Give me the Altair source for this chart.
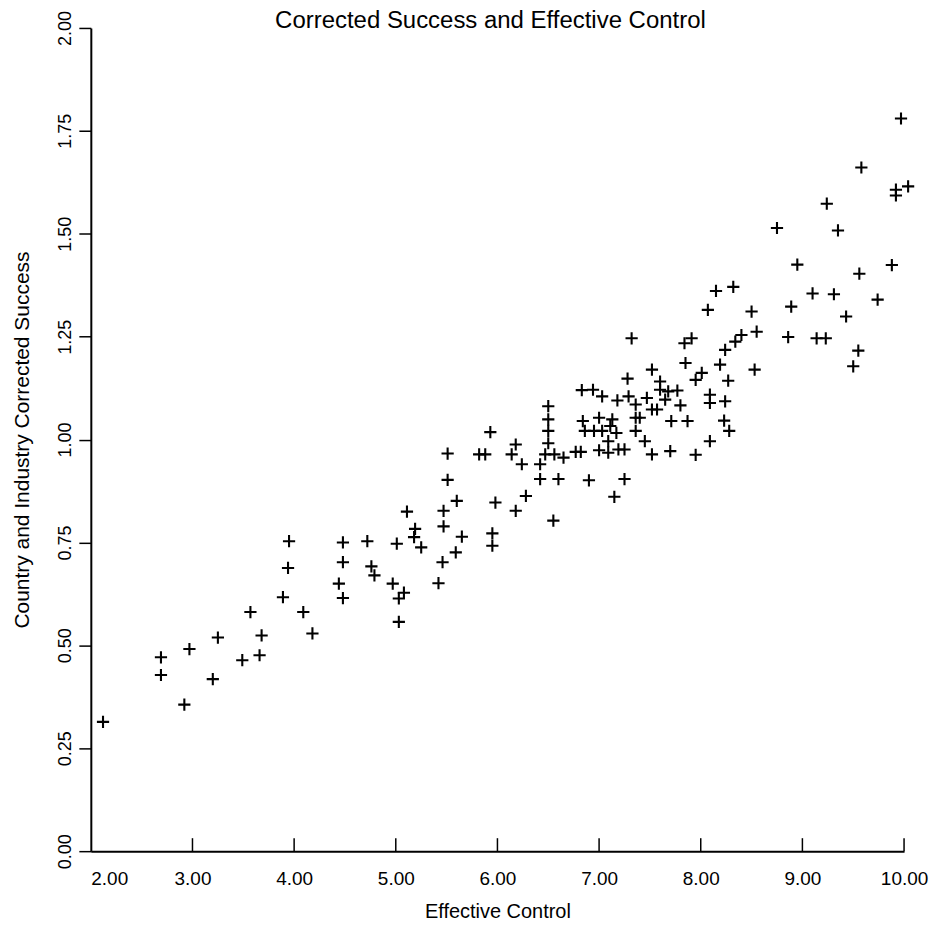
import altair as alt
import pandas as pd

# Values
effective_control = [
    2.12, 2.69, 2.69, 2.92, 2.97, 3.20, 3.25, 3.49, 3.66, 3.68,
    3.57, 3.89, 3.94, 4.09, 4.18, 4.44, 4.48, 4.48, 4.76, 4.79,
    4.97, 5.03, 5.03, 5.08, 3.95, 4.48, 4.72, 5.01, 5.11, 5.19,
    5.18, 5.25, 5.47, 5.47, 5.51, 5.51, 5.60, 5.65, 5.59, 5.46,
    5.42, 5.95, 5.95, 5.98, 5.93, 5.82, 5.88, 6.18, 6.14, 6.24,
    6.18, 6.28, 6.55, 6.42, 6.60, 6.42, 6.47, 6.56, 6.65, 6.50,
    6.50, 6.50, 6.50, 6.77, 6.82, 6.84, 6.86, 6.95, 7.00, 7.03,
    7.13, 7.11, 7.17, 7.09, 7.00, 7.09, 7.19, 7.25, 7.36, 7.40,
    7.36, 7.45, 7.52, 7.52, 7.71, 7.70, 6.90, 7.25, 7.15, 8.07,
    8.50, 8.89, 9.43, 9.74, 7.32, 7.84, 7.91, 8.40, 8.34, 8.55,
    8.24, 8.86, 9.14, 9.23, 9.55, 9.50, 8.53, 8.19, 7.85, 7.52,
    7.28, 7.60, 8.01, 7.95, 8.27, 7.60, 7.68, 7.77, 7.03, 7.18,
    7.29, 7.47, 7.65, 7.36, 7.80, 7.57, 8.09, 8.09, 8.24, 7.87,
    8.23, 8.28, 8.09, 7.95, 6.83, 6.94, 9.97, 9.58, 9.92, 9.92,
    10.04, 9.24, 9.35, 8.75, 8.95, 9.56, 9.88, 9.10, 9.31, 8.15,
    8.32,
]
corrected_success = [
    0.314, 0.471, 0.428, 0.356, 0.491, 0.418, 0.519, 0.464, 0.476, 0.524,
    0.581, 0.617, 0.688, 0.581, 0.529, 0.650, 0.615, 0.702, 0.692, 0.670,
    0.650, 0.614, 0.557, 0.628, 0.753, 0.750, 0.753, 0.747, 0.825, 0.783,
    0.763, 0.738, 0.789, 0.827, 0.902, 0.966, 0.851, 0.764, 0.726, 0.702,
    0.651, 0.772, 0.742, 0.847, 1.018, 0.964, 0.964, 0.988, 0.964, 0.940,
    0.827, 0.863, 0.803, 0.904, 0.904, 0.940, 0.964, 0.964, 0.956, 0.991,
    1.021, 1.049, 1.081, 0.970, 0.970, 1.045, 1.021, 1.021, 1.053, 1.021,
    1.049, 1.033, 1.016, 0.996, 0.974, 0.968, 0.976, 0.976, 1.053, 1.053,
    1.021, 0.996, 1.073, 0.964, 1.045, 0.972, 0.901, 0.904, 0.861, 1.315,
    1.311, 1.323, 1.299, 1.340, 1.246, 1.234, 1.246, 1.254, 1.238, 1.262,
    1.218, 1.249, 1.246, 1.246, 1.216, 1.178, 1.170, 1.182, 1.186, 1.170,
    1.148, 1.141, 1.162, 1.145, 1.143, 1.121, 1.117, 1.119, 1.105, 1.095,
    1.105, 1.101, 1.097, 1.085, 1.083, 1.073, 1.109, 1.089, 1.093, 1.045,
    1.046, 1.021, 0.996, 0.963, 1.120, 1.121, 1.780, 1.661, 1.607, 1.593,
    1.615, 1.573, 1.508, 1.514, 1.425, 1.403, 1.424, 1.355, 1.353, 1.361,
    1.371,
]

x_tick_values = [2, 3, 4, 5, 6, 7, 8, 9, 10]
y_tick_values = [0, 0.25, 0.5, 0.75, 1.0, 1.25, 1.5, 1.75, 2.0]
x_inner_ticks = [3, 4, 5, 6, 7, 8, 9, 10]

df = pd.DataFrame({"ec": effective_control, "cs": corrected_success})
ticks_df = pd.DataFrame({"t": x_inner_ticks})

W, H = 815, 825
FONT = "Liberation Sans"

x_scale = alt.Scale(domain=[2, 10], nice=False, zero=False)
y_scale = alt.Scale(domain=[0, 2], nice=False, zero=False)

points = alt.Chart(df).mark_point(
    shape="M-1,0L1,0M0,-1L0,1",
    filled=False,
    size=150,
    strokeWidth=2.1,
    color="black",
    opacity=1,
).encode(
    x=alt.X(
        "ec:Q",
        scale=x_scale,
        axis=alt.Axis(
            values=x_tick_values,
            format=".2f",
            title="Effective Control",
            ticks=False,
            tickSize=0,
            grid=False,
            labelPadding=33,
            labelBaseline="alphabetic",
            labelAlign=alt.expr("datum.value == 2 ? 'left' : 'center'"),
            labelFontSize=19,
            titleFontSize=20,
            titleX=W / 2,
            titleY=66,
            titleBaseline="alphabetic",
            titleAlign="center",
            domainColor="black",
            domainWidth=2,
        ),
    ),
    y=alt.Y(
        "cs:Q",
        scale=y_scale,
        axis=alt.Axis(
            values=y_tick_values,
            format=".2f",
            title="Country and Industry Corrected Success",
            grid=False,
            tickSize=12,
            tickWidth=1.5,
            tickColor="black",
            labelPadding=8,
            labelAngle=-90,
            labelAlign="center",
            labelBaseline="alphabetic",
            labelFontSize=18,
            titleFontSize=21,
            titleAngle=-90,
            titleX=-62,
            titleY=H / 2,
            titleAlign="center",
            titleBaseline="alphabetic",
            domainColor="black",
            domainWidth=2,
        ),
    ),
)

inner_ticks = alt.Chart(ticks_df).mark_rule(color="black", strokeWidth=1.5).encode(
    x=alt.X("t:Q", scale=x_scale),
    y=alt.value(H),
    y2=alt.value(H - 13),
)

chart = (
    alt.layer(points, inner_ticks)
    .properties(
        width=W,
        height=H,
        title=alt.TitleParams(
            "Corrected Success and Effective Control",
            fontSize=24,
            fontWeight="normal",
            anchor="middle",
            frame="group",
            baseline="alphabetic",
            offset=-42,
            dx=-7,
            color="black",
        ),
        autosize=alt.AutoSizeParams(type="none"),
        padding={"left": 83, "top": 19, "right": 25, "bottom": 72},
    )
    .configure(font=FONT)
    .configure_view(stroke=None)
    .configure_axis(labelColor="black", titleColor="black", titleFontWeight="normal",
                    labelFont=FONT, titleFont=FONT)
    .configure_title(font=FONT)
)

chart.save("out.html", embed_options={"renderer": "svg", "actions": False})
